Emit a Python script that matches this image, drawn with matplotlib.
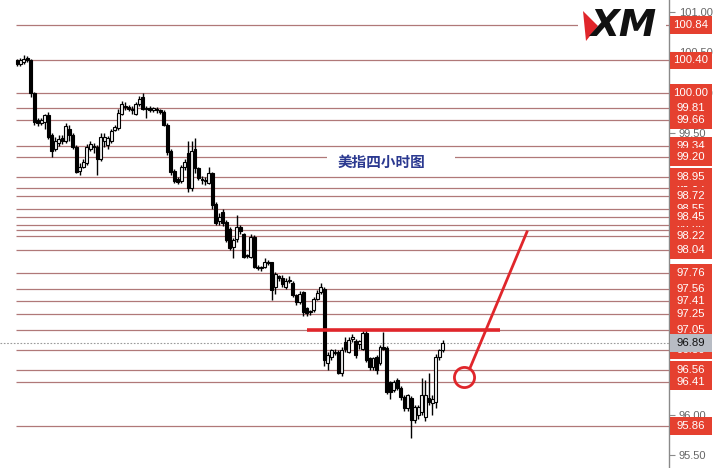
import matplotlib
matplotlib.use("Agg")
import matplotlib.pyplot as plt
from matplotlib.patches import Rectangle, Polygon
from matplotlib.transforms import blended_transform_factory
import numpy as np

# ---------------- data ----------------
opens = [100.40, 100.35, 100.38, 100.42, 100.40, 99.99, 99.66, 99.62, 99.63, 99.72,
         99.47, 99.30, 99.38, 99.44, 99.40, 99.55, 99.48, 99.33, 99.03, 99.08,
         99.12, 99.30, 99.34, 99.33, 99.18, 99.40, 99.35, 99.40, 99.53, 99.56,
         99.74, 99.84, 99.82, 99.80, 99.74, 99.86, 99.94, 99.80, 99.81, 99.79,
         99.80, 99.78, 99.76, 99.60, 99.27, 99.03, 98.93, 98.90, 99.08, 99.25,
         98.82, 99.30, 99.06, 98.93, 98.90, 98.88, 99.00, 98.62, 98.40, 98.52,
         98.39, 98.30, 98.08, 98.18, 98.33, 98.24, 97.97, 97.96, 98.21, 97.84,
         97.82, 97.84, 97.90, 97.89, 97.58, 97.72, 97.70, 97.58, 97.66, 97.64,
         97.48, 97.40, 97.52, 97.32, 97.28, 97.30, 97.44, 97.52, 97.56, 96.64,
         96.72, 96.76, 96.78, 96.52, 96.90, 96.78, 96.94, 96.92, 96.88, 96.82,
         97.02, 96.70, 96.59, 96.72, 96.64, 96.83, 96.83, 96.40, 96.30, 96.43,
         96.33, 96.22, 96.08, 96.21, 95.93, 96.00, 96.03, 95.97, 96.21, 96.15,
         96.16, 96.72, 96.80]
highs = [100.42, 100.43, 100.47, 100.45, 100.42, 100.01, 99.68, 99.69, 99.74, 99.76,
         99.50, 99.45, 99.47, 99.48, 99.62, 99.60, 99.50, 99.35, 99.12, 99.18,
         99.36, 99.40, 99.38, 99.35, 99.50, 99.50, 99.46, 99.55, 99.60, 99.80,
         99.90, 99.88, 99.85, 99.83, 99.88, 99.96, 100.00, 99.84, 99.83, 99.82,
         99.82, 99.80, 99.78, 99.62, 99.30, 99.05, 98.95, 99.10, 99.18, 99.40,
         99.40, 99.44, 99.08, 98.96, 98.95, 99.08, 99.02, 98.64, 98.50, 98.55,
         98.42, 98.33, 98.20, 98.48, 98.36, 98.26, 98.00, 98.24, 98.23, 97.86,
         97.85, 97.94, 97.92, 97.90, 97.77, 97.74, 97.74, 97.70, 97.72, 97.66,
         97.50, 97.53, 97.54, 97.34, 97.30, 97.46, 97.55, 97.63, 97.58, 96.78,
         96.82, 96.82, 96.80, 96.84, 96.96, 96.97, 97.00, 96.94, 96.93, 97.05,
         97.05, 96.72, 96.72, 96.74, 96.86, 97.03, 96.85, 96.42, 96.43, 96.45,
         96.35, 96.24, 96.26, 96.23, 96.12, 96.12, 96.45, 96.43, 96.52, 96.24,
         96.75, 96.82, 96.93]
lows = [100.33, 100.33, 100.36, 100.38, 99.95, 99.60, 99.58, 99.60, 99.55, 99.42,
        99.20, 99.27, 99.34, 99.36, 99.38, 99.40, 99.30, 99.00, 98.98, 99.06,
        99.10, 99.28, 99.25, 98.98, 99.15, 99.32, 99.30, 99.38, 99.52, 99.54,
        99.72, 99.78, 99.77, 99.74, 99.72, 99.84, 99.78, 99.68, 99.76, 99.76,
        99.75, 99.73, 99.58, 99.22, 98.98, 98.88, 98.86, 98.88, 99.04, 98.76,
        98.78, 99.00, 98.92, 98.86, 98.85, 98.86, 98.56, 98.35, 98.36, 98.34,
        98.15, 98.04, 97.95, 98.14, 98.25, 97.94, 97.95, 97.94, 97.82, 97.80,
        97.79, 97.82, 97.86, 97.42, 97.50, 97.66, 97.58, 97.56, 97.64, 97.46,
        97.36, 97.38, 97.22, 97.22, 97.24, 97.28, 97.42, 97.50, 96.60, 96.55,
        96.68, 96.74, 96.50, 96.48, 96.78, 96.76, 96.90, 96.70, 96.82, 96.80,
        96.66, 96.56, 96.56, 96.50, 96.62, 96.80, 96.26, 96.20, 96.28, 96.30,
        96.18, 96.05, 96.05, 95.71, 95.90, 95.95, 96.00, 95.92, 96.12, 96.00,
        96.08, 96.68, 96.78]
closes = [100.36, 100.40, 100.42, 100.41, 99.99, 99.64, 99.62, 99.66, 99.72, 99.45,
          99.28, 99.40, 99.42, 99.40, 99.58, 99.48, 99.33, 99.02, 99.08, 99.14,
          99.32, 99.36, 99.32, 99.18, 99.45, 99.45, 99.44, 99.52, 99.57, 99.75,
          99.86, 99.82, 99.80, 99.78, 99.86, 99.92, 99.80, 99.81, 99.79, 99.80,
          99.78, 99.76, 99.60, 99.26, 99.02, 98.90, 98.89, 99.08, 99.14, 98.82,
          99.27, 99.06, 98.94, 98.91, 98.92, 99.00, 98.60, 98.38, 98.46, 98.38,
          98.17, 98.07, 98.17, 98.33, 98.28, 97.96, 97.98, 98.21, 97.83, 97.82,
          97.83, 97.90, 97.88, 97.55, 97.75, 97.70, 97.62, 97.66, 97.67, 97.48,
          97.40, 97.50, 97.27, 97.26, 97.27, 97.44, 97.51, 97.58, 96.68, 96.74,
          96.80, 96.78, 96.52, 96.80, 96.82, 96.93, 96.96, 96.74, 96.91, 97.02,
          96.68, 96.59, 96.70, 96.55, 96.84, 96.82, 96.28, 96.28, 96.41, 96.33,
          96.22, 96.08, 96.24, 95.93, 96.09, 96.09, 96.24, 96.24, 96.16, 96.20,
          96.72, 96.80, 96.89]

levels = [100.84, 100.40, 100.00, 99.81, 99.66, 99.34, 99.20, 98.95, 98.72, 98.45,
          98.22, 98.04, 97.76, 97.56, 97.41, 97.25, 97.05, 96.56, 96.41, 95.86]
hidden_levels = [98.82, 98.55, 98.35, 98.29, 96.80]
axis_ticks = [95.5, 96.0, 96.5, 97.0, 97.5, 98.0, 98.5, 99.0, 99.5, 100.0, 100.5, 101.0]
last_price = 96.89
key_level = 97.05
title = "美指四小时图"

# ---------------- figure ----------------
W, H = 727, 468
fig = plt.figure(figsize=(W / 100, H / 100), dpi=100)
fig.patch.set_facecolor("white")
ax = fig.add_axes([0, 0, 669 / W, 1])
ax.set_facecolor("white")

n = len(closes)
xs = np.arange(n)
ax.set_xlim(-4.87, 186.8)
ax.set_ylim(95.337, 101.151)

for s in ["top", "left", "bottom"]:
    ax.spines[s].set_visible(False)
ax.spines["right"].set_color("#8a8a8a")
ax.spines["right"].set_linewidth(1.0)
ax.set_xticks([])
ax.yaxis.tick_right()
ax.set_yticks(axis_ticks)
ax.set_yticklabels([f"{t:.2f}" for t in axis_ticks])
ax.tick_params(axis="y", length=4, color="#8a8a8a", labelsize=8, labelcolor="#666666", pad=3)
for lab in ax.get_yticklabels():
    lab.set_fontfamily("Liberation Sans")

line_col = "#b07878"
x0 = -0.29
ax.hlines(levels + hidden_levels, x0, 186.8, colors=line_col, linewidth=0.9, zorder=1)
ax.axhline(last_price, color="#9a9a9a", linewidth=0.8, linestyle=(0, (1.5, 1.5)), zorder=1)

# candles
o = np.array(opens); h = np.array(highs); l = np.array(lows); c = np.array(closes)
up = c >= o
ax.vlines(xs, l, h, colors="black", linewidth=1.0, zorder=3)
body_lo = np.minimum(o, c)
body_h = np.maximum(np.abs(c - o), 0.015)
ax.bar(xs[up], body_h[up], bottom=body_lo[up], width=0.85, color="#f2f2f2",
       edgecolor="black", linewidth=0.8, zorder=4)
ax.bar(xs[~up], body_h[~up], bottom=body_lo[~up], width=0.85, color="black",
       edgecolor="black", linewidth=0.8, zorder=4)

# annotations
ax.hlines(key_level, 83.1, 138.4, colors="#e0262b", linewidth=2.6, zorder=6)
ax.plot([129.8, 146.1], [96.58, 98.27], color="#e0262b", linewidth=2.0, zorder=6)
ax.plot([128.1], [96.47], marker="o", markersize=14.5, markerfacecolor="none",
        markeredgecolor="#e0262b", markeredgewidth=2.0, zorder=6)

# title with white patch
ax.add_patch(Rectangle((88.8, 98.99), 36.7, 0.31, facecolor="white", edgecolor="none", zorder=2))
ax.text(104.3, 99.145, title, ha="center", va="center", fontsize=10.5, color="#2b3990",
        fontweight="bold", family=["Noto Sans CJK SC", "DejaVu Sans"], zorder=7)

# right-side labels (each later label covers the earlier ones)
bt = blended_transform_factory(fig.transFigure, ax.transData)
bx, bw = 670 / W, 42 / W
half = 0.108
z = 8
for lv in hidden_levels[:-1] + levels + [hidden_levels[-1]]:
    ax.add_patch(Rectangle((bx, lv - half), bw, 2 * half, transform=bt, facecolor="#e5402f",
                           edgecolor="none", clip_on=False, zorder=z))
    ax.text(bx + bw / 2, lv, f"{lv:.2f}", transform=bt, ha="center", va="center",
            fontsize=8.2, color="white", family="Liberation Sans", clip_on=False, zorder=z + 0.5)
    z += 1
ax.add_patch(Rectangle((bx, last_price - half), bw, 2 * half, transform=bt, facecolor="#b8bcc4",
                       edgecolor="none", clip_on=False, zorder=z))
ax.text(bx + bw / 2, last_price, f"{last_price:.2f}", transform=bt, ha="center", va="center",
        fontsize=8.2, color="#111111", family="Liberation Sans", clip_on=False, zorder=z + 0.5)

# logo
fig.patches.append(Rectangle((578 / W, 1 - 47 / H), 88 / W, 44 / H, transform=fig.transFigure,
                             facecolor="white", edgecolor="none", zorder=20))
fig.patches.append(Polygon([(583 / W, 1 - 11 / H), (598 / W, 1 - 26 / H), (586 / W, 1 - 41 / H)],
                           closed=True, transform=fig.transFigure, facecolor="#e0262b",
                           edgecolor="none", zorder=21))
fig.text(624 / W, 1 - 26 / H, "XM", ha="center", va="center", fontsize=27, fontweight="heavy",
         fontstyle="italic", color="#111111", family="DejaVu Sans", zorder=22)

fig.savefig("out.png", dpi=100, facecolor="white")
